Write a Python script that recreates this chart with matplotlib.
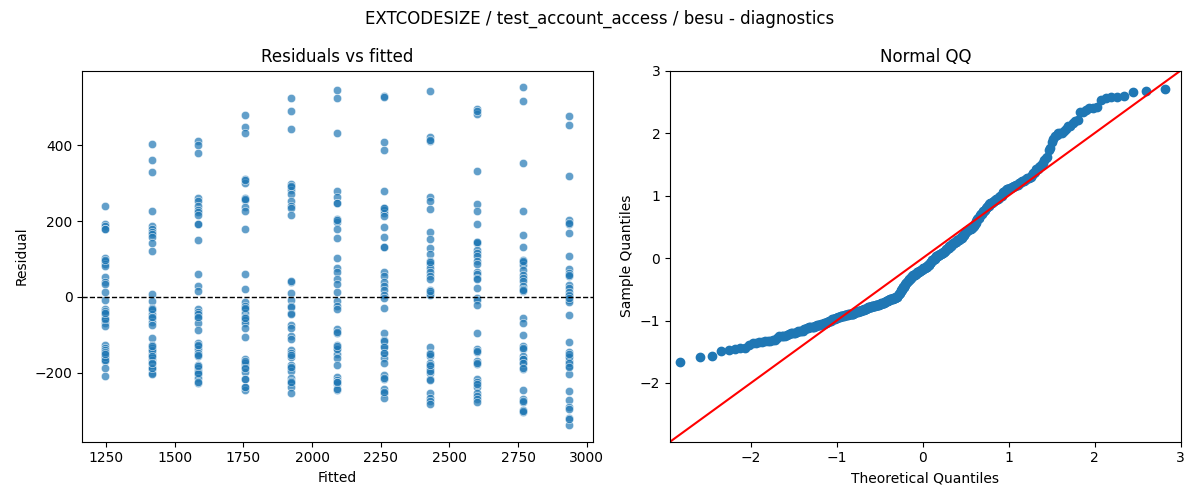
import numpy as np
import matplotlib
matplotlib.use("Agg")
import matplotlib.pyplot as plt
import seaborn as sns
from statistics import NormalDist

# fitted value of each group
fitted_levels = [1247, 1416, 1585, 1754, 1923, 2092, 2261, 2430, 2599, 2768, 2937]

# residuals, one list per fitted group
res_1247 = [239, 193, 186, 178, 103, 96, 88, 81, 53, 39, 34, 13, -7, -32, -39, -46, -55, -61, -68,
            -77, -127, -134, -141, -147, -156, -163, -169, -187, -208,
            98, -160, -38, -58, -146, -167, 179, -42, -152]
res_1416 = [404, 361, 329, 226, 188, 179, 172, 167, 157, 143, 121, 8, -11, -29, -35, -46, -55, -66,
            -73, -108, -127, -134, -143, -152, -158, -167, -175, -184, -191, -200, -204,
            -140, -32, -53, -156, -189, -130, -174]
res_1585 = [411, 401, 379, 261, 252, 240, 230, 223, 217, 193, 150, 61, 30, 16, -32, -39, -46, -55,
            -68, -88, -121, -130, -139, -147, -156, -181, -188, -196, -204, -213, -228,
            192, -200, -53, -154, -182, -226, -128]
res_1754 = [479, 449, 432, 311, 302, 262, 256, 237, 226, 179, 61, 21, -14, -23, -33, -42, -53, -61,
            -70, -82, -105, -163, -172, -181, -189, -198, -216, -237, -246,
            259, -175, -29, -55, -169, -187, -218, -239, 309]
res_1923 = [524, 492, 442, 298, 291, 282, 272, 252, 240, 236, 217, 39, 11, -7, -23, -42, -73, -82,
            -104, -112, -140, -149, -158, -181, -189, -196, -213, -222, -228, -237, -253,
            41, -26, -44, -154, -225, 293, -185]
res_2092 = [546, 526, 432, 280, 263, 247, 205, 199, 179, 155, 103, 76, 65, 46, 35, 14, -11, -23,
            -32, -84, -95, -127, -134, -152, -161, -181, -211, -220, -231, -246,
            249, 203, -138, -93, -130, -226, -244, -225]
res_2261 = [530, 408, 389, 279, 236, 230, 221, 214, 184, 158, 132, 65, 54, 39, 30, 18, 6, -3, -29,
            -95, -114, -130, -147, -161, -175, -207, -218, -242, -253, -266,
            528, 234, 131, -250, -117, -132, -213, -149]
res_2430 = [543, 423, 411, 265, 252, 233, 172, 154, 129, 112, 94, 87, 76, 65, 54, 46, 18, 11, 4,
            -132, -149, -156, -175, -182, -191, -200, -216, -219, -254, -266, -275, -284,
            415, 91, -196, 15, -152, -181]
res_2599 = [495, 484, 332, 246, 227, 192, 146, 142, 125, 116, 107, 94, 88, 66, 61, 50, 46, 24, -3,
            -7, -22, -95, -137, -146, -169, -178, -218, -226, -239, -253, -261, -270, -277,
            491, 145, -230, -143, -174]
res_2768 = [553, 516, 353, 226, 163, 133, 98, 91, 85, 72, 59, 50, 41, 28, 21, 15, -55, -68, -101,
            -130, -137, -156, -165, -175, -191, -246, -270, -277, -298, -304,
            94, -165, 19, -134, -174, -189, -275, -301]
res_2937 = [477, 453, 320, 204, 193, 168, 109, 74, 63, 54, 32, 24, 12, 2, -7, -14, -48, -118, -146,
            -156, -169, -182, -204, -248, -272, -292, -320, -338,
            59, -160, 6, -3, -152, -174, -184, -295, 196, -323]

groups = [res_1247, res_1416, res_1585, res_1754, res_1923, res_2092,
          res_2261, res_2430, res_2599, res_2768, res_2937]

fitted = np.concatenate([[f] * len(g) for f, g in zip(fitted_levels, groups)])
resid = np.concatenate([np.array(g, dtype=float) for g in groups])

fig, (ax1, ax2) = plt.subplots(1, 2, figsize=(12, 5), dpi=100)

sns.scatterplot(x=fitted, y=resid, alpha=0.7, ax=ax1)
ax1.axhline(0, color="black", linestyle="--", linewidth=1)
ax1.set_title("Residuals vs fitted")
ax1.set_xlabel("Fitted")
ax1.set_ylabel("Residual")

# normal QQ: standardised residuals against normal quantiles, positions i/(n+1)
n = len(resid)
sample_q = np.sort((resid - resid.mean()) / resid.std())
theo_q = np.array([NormalDist().inv_cdf(i / (n + 1)) for i in range(1, n + 1)])
ax2.plot(theo_q, sample_q, "o", color="#1f77b4", markersize=6)
lims = (-2.94, 3.0)
ax2.plot(lims, lims, "r-")
ax2.set_xlim(lims)
ax2.set_ylim(lims)
ax2.set_title("Normal QQ")
ax2.set_xlabel("Theoretical Quantiles")
ax2.set_ylabel("Sample Quantiles")

fig.suptitle("EXTCODESIZE / test_account_access / besu - diagnostics")
fig.tight_layout()
fig.savefig("out.png")
